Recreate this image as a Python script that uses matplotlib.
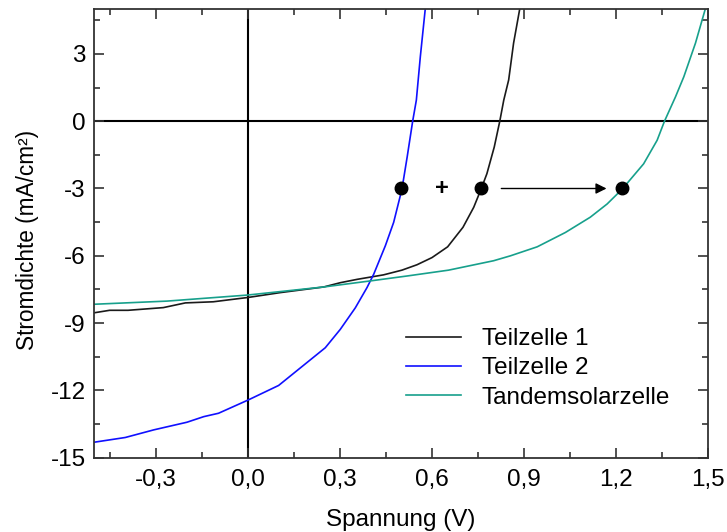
import matplotlib
matplotlib.use("Agg")
import matplotlib.pyplot as plt
from matplotlib.ticker import MultipleLocator, FuncFormatter

plt.rcParams['font.family'] = ['Liberation Sans', 'DejaVu Sans']

# Teilzelle 1 (black)
v1 = [-0.5, -0.45, -0.39, -0.275, -0.203, -0.112, -0.024, 0.0, 0.107, 0.248, 0.302, 0.357,
      0.443, 0.503, 0.552, 0.601, 0.652, 0.702, 0.737, 0.761, 0.78, 0.804, 0.822, 0.835,
      0.851, 0.867, 0.887]
j1 = [-8.54, -8.43, -8.43, -8.31, -8.10, -8.05, -7.90, -7.86, -7.64, -7.39, -7.20, -7.05,
      -6.85, -6.64, -6.40, -6.08, -5.60, -4.73, -3.84, -3.03, -2.34, -1.15, 0.0, 0.94,
      1.84, 3.48, 5.0]

# Teilzelle 2 (blue)
v2 = [-0.5, -0.399, -0.306, -0.198, -0.143, -0.095, -0.046, 0.003, 0.101, 0.253, 0.302,
      0.351, 0.389, 0.411, 0.449, 0.476, 0.503, 0.52, 0.538, 0.55, 0.563, 0.579]
j2 = [-14.31, -14.10, -13.76, -13.42, -13.17, -13.02, -12.72, -12.42, -11.78, -10.10, -9.28,
      -8.32, -7.42, -6.82, -5.55, -4.51, -3.03, -1.60, 0.0, 0.94, 2.88, 5.0]

# Tandemsolarzelle (teal)
vt = [-0.5, -0.263, 0.0, 0.248, 0.4, 0.52, 0.655, 0.802, 0.857, 0.944, 1.036, 1.117, 1.172,
      1.221, 1.291, 1.335, 1.359, 1.395, 1.422, 1.46, 1.492]
jt = [-8.16, -8.02, -7.75, -7.39, -7.12, -6.90, -6.64, -6.22, -6.00, -5.60, -4.96, -4.28,
      -3.69, -3.03, -1.90, -0.85, 0.0, 1.09, 1.98, 3.48, 5.0]

# working points
pts_v = [0.50, 0.76, 1.22]
pts_j = [-3, -3, -3]
plus_v, plus_j = 0.632, -3
arrow_from = (0.827, -3)
arrow_to = (1.17, -3)

labels = ["Teilzelle 1", "Teilzelle 2", "Tandemsolarzelle"]
colors = ["#1a1a1a", "#1010ff", "#17a08c"]

FS = 17.5

fig = plt.figure(figsize=(7.27, 5.32), dpi=100)
ax = fig.add_axes([0.1297, 0.1397, 0.9735 - 0.1297, 0.983 - 0.1397])

ax.axhline(0, color='black', lw=1.5, zorder=1)
ax.axvline(0, color='black', lw=1.5, zorder=1)

ax.plot(v1, j1, color=colors[0], lw=1.2, label=labels[0], zorder=2)
ax.plot(v2, j2, color=colors[1], lw=1.2, label=labels[1], zorder=2)
ax.plot(vt, jt, color=colors[2], lw=1.2, label=labels[2], zorder=2)

ax.plot(pts_v, pts_j, 'o', color='black', ms=9, zorder=4)
ax.text(plus_v, plus_j, '+', ha='center', va='center', fontsize=17, fontweight='bold')
ax.annotate('', xy=arrow_to, xytext=arrow_from,
            arrowprops=dict(arrowstyle='-|>', color='black', lw=1.0,
                            mutation_scale=16, shrinkA=0, shrinkB=0))

ax.set_xlim(-0.5, 1.5)
ax.set_ylim(-15, 5)
ax.xaxis.set_major_locator(MultipleLocator(0.3))
ax.xaxis.set_minor_locator(MultipleLocator(0.15))
ax.yaxis.set_major_locator(MultipleLocator(3))
ax.yaxis.set_minor_locator(MultipleLocator(1.5))
ax.xaxis.set_major_formatter(FuncFormatter(lambda x, p: f"{x:.1f}".replace('.', ',').replace('-0,0', '0,0')))
ax.yaxis.set_major_formatter(FuncFormatter(lambda y, p: f"{int(round(y))}"))

ax.tick_params(which='both', direction='in', top=True, right=True, labelsize=FS, color='#333333')
ax.tick_params(which='major', length=7, width=1.2)
ax.tick_params(axis='x', which='major', pad=8)
ax.tick_params(axis='y', which='major', pad=6)
ax.tick_params(which='minor', length=4, width=1.2)
for s in ax.spines.values():
    s.set_linewidth(1.3)
    s.set_color('#333333')

ax.set_xlabel('Spannung (V)', fontsize=FS, labelpad=13)
ax.set_ylabel('Stromdichte (mA/cm²)', fontsize=16.3)
ax.yaxis.set_label_coords(-0.09, 0.485)

leg = ax.legend(loc='center left', bbox_to_anchor=(0.508, 0.199), frameon=False, fontsize=FS,
                handlelength=2.26, handletextpad=0.86, labelspacing=0.3,
                borderpad=0, borderaxespad=0)

fig.savefig('out.png', dpi=100)
